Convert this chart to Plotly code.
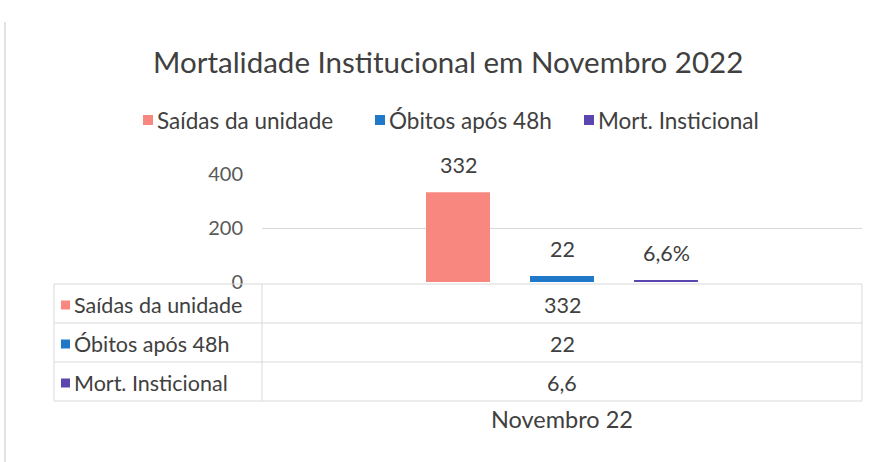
import plotly.graph_objects as go

# ---- data ----
categories = ["Novembro 22"]
series_names = ["Saídas da unidade", "Óbitos após 48h", "Mort. Insticional"]
series_values = [332, 22, 6.6]
label_suffix = ["", "", "%"]
y_ticks = [0, 200, 400]
title_text = "Mortalidade Institucional em Novembro 2022"

# ---- style ----
colors = ["#F8877F", "#1F78C8", "#5B45AE"]
FONT = "Lato"
TXT = "#404040"
GRID = "#d9d9d9"

W, H = 881, 462
L, R, T, B = 262, 862, 174, 282


def px(x):
    return (x - L) / (R - L)


def py(y):
    return (B - y) / (B - T)


def fmt(v):
    s = f"{v:g}"
    return s.replace(".", ",")


fig = go.Figure()
for name, val, col in zip(series_names, series_values, colors):
    fig.add_trace(go.Bar(x=categories, y=[val], name=name, marker=dict(color=col, line=dict(width=0)),
                         showlegend=False))

annotations = []
shapes = []

# bar data labels (offset above bar tops)
offsets = [-1, 0, 1]
for i, (val, suf) in enumerate(zip(series_values, label_suffix)):
    annotations.append(dict(x=categories[0], xref="x", y=val, yref="y", text=fmt(val) + suf,
                            showarrow=False, yshift=27, xshift=offsets[i] * 104,
                            font=dict(family=FONT, size=21.5, color=TXT)))

# title
annotations.append(dict(x=px(448), xref="paper", y=py(62), yref="paper", text=title_text,
                        showarrow=False, xanchor="center", yanchor="middle",
                        font=dict(family=FONT, size=29.5, color=TXT)))

# custom legend
leg_x = [143, 375, 584]
for xx, name, col in zip(leg_x, series_names, colors):
    shapes.append(dict(type="rect", xref="paper", yref="paper", x0=px(xx), x1=px(xx + 10),
                       y0=py(125), y1=py(115), fillcolor=col, line=dict(width=0)))
    annotations.append(dict(x=px(xx + 12), xref="paper", y=py(120), yref="paper", text=name,
                            showarrow=False, xanchor="left", yanchor="middle",
                            font=dict(family=FONT, size=22.5, color=TXT)))

# data table
tbl_left, tbl_div, tbl_right = 54, 262, 862
rows_y = [284, 323, 362, 401]
line_style = dict(color=GRID, width=1)
for yy in rows_y:
    shapes.append(dict(type="line", xref="paper", yref="paper", x0=px(tbl_left), x1=px(tbl_right),
                       y0=py(yy), y1=py(yy), line=line_style))
for xx in [tbl_left, tbl_div, tbl_right]:
    shapes.append(dict(type="line", xref="paper", yref="paper", x0=px(xx), x1=px(xx),
                       y0=py(rows_y[0]), y1=py(rows_y[-1]), line=line_style))
for i, (name, val, col) in enumerate(zip(series_names, series_values, colors)):
    yc = (rows_y[i] + rows_y[i + 1]) / 2 + 1
    shapes.append(dict(type="rect", xref="paper", yref="paper", x0=px(61), x1=px(70),
                       y0=py(yc + 5), y1=py(yc - 4), fillcolor=col, line=dict(width=0)))
    annotations.append(dict(x=px(72), xref="paper", y=py(yc), yref="paper", text=name,
                            showarrow=False, xanchor="left", yanchor="middle",
                            font=dict(family=FONT, size=21.5, color=TXT)))
    annotations.append(dict(x=categories[0], xref="x", y=py(yc), yref="paper", text=fmt(val),
                            showarrow=False, xanchor="center", yanchor="middle",
                            font=dict(family=FONT, size=21.5, color=TXT)))

# category label below table
annotations.append(dict(x=categories[0], xref="x", y=py(419), yref="paper", text=categories[0],
                        showarrow=False, xanchor="center", yanchor="middle",
                        font=dict(family=FONT, size=23.5, color=TXT)))

# faint scan frame line at left
shapes.append(dict(type="line", xref="paper", yref="paper", x0=px(5), x1=px(5),
                   y0=py(22), y1=py(462), line=dict(color="#e2e2e2", width=2)))

fig.update_layout(
    width=W, height=H,
    margin=dict(l=L, r=W - R, t=T, b=H - B, pad=0),
    paper_bgcolor="white", plot_bgcolor="white",
    barmode="group", bargap=0.48, bargroupgap=0.385,
    showlegend=False,
    xaxis=dict(showticklabels=False, showgrid=False, zeroline=False, showline=False, ticks=""),
    yaxis=dict(range=[0, 400], tickvals=y_ticks, showgrid=True, gridcolor=GRID, gridwidth=1,
               zeroline=False, showline=False, ticks="", ticklabelstandoff=18,
               tickfont=dict(family=FONT, size=20, color="#595959")),
    annotations=annotations,
    shapes=shapes,
)

fig.write_html("out.html", config={"displayModeBar": False},
               post_script="document.body.style.margin='0px';")
